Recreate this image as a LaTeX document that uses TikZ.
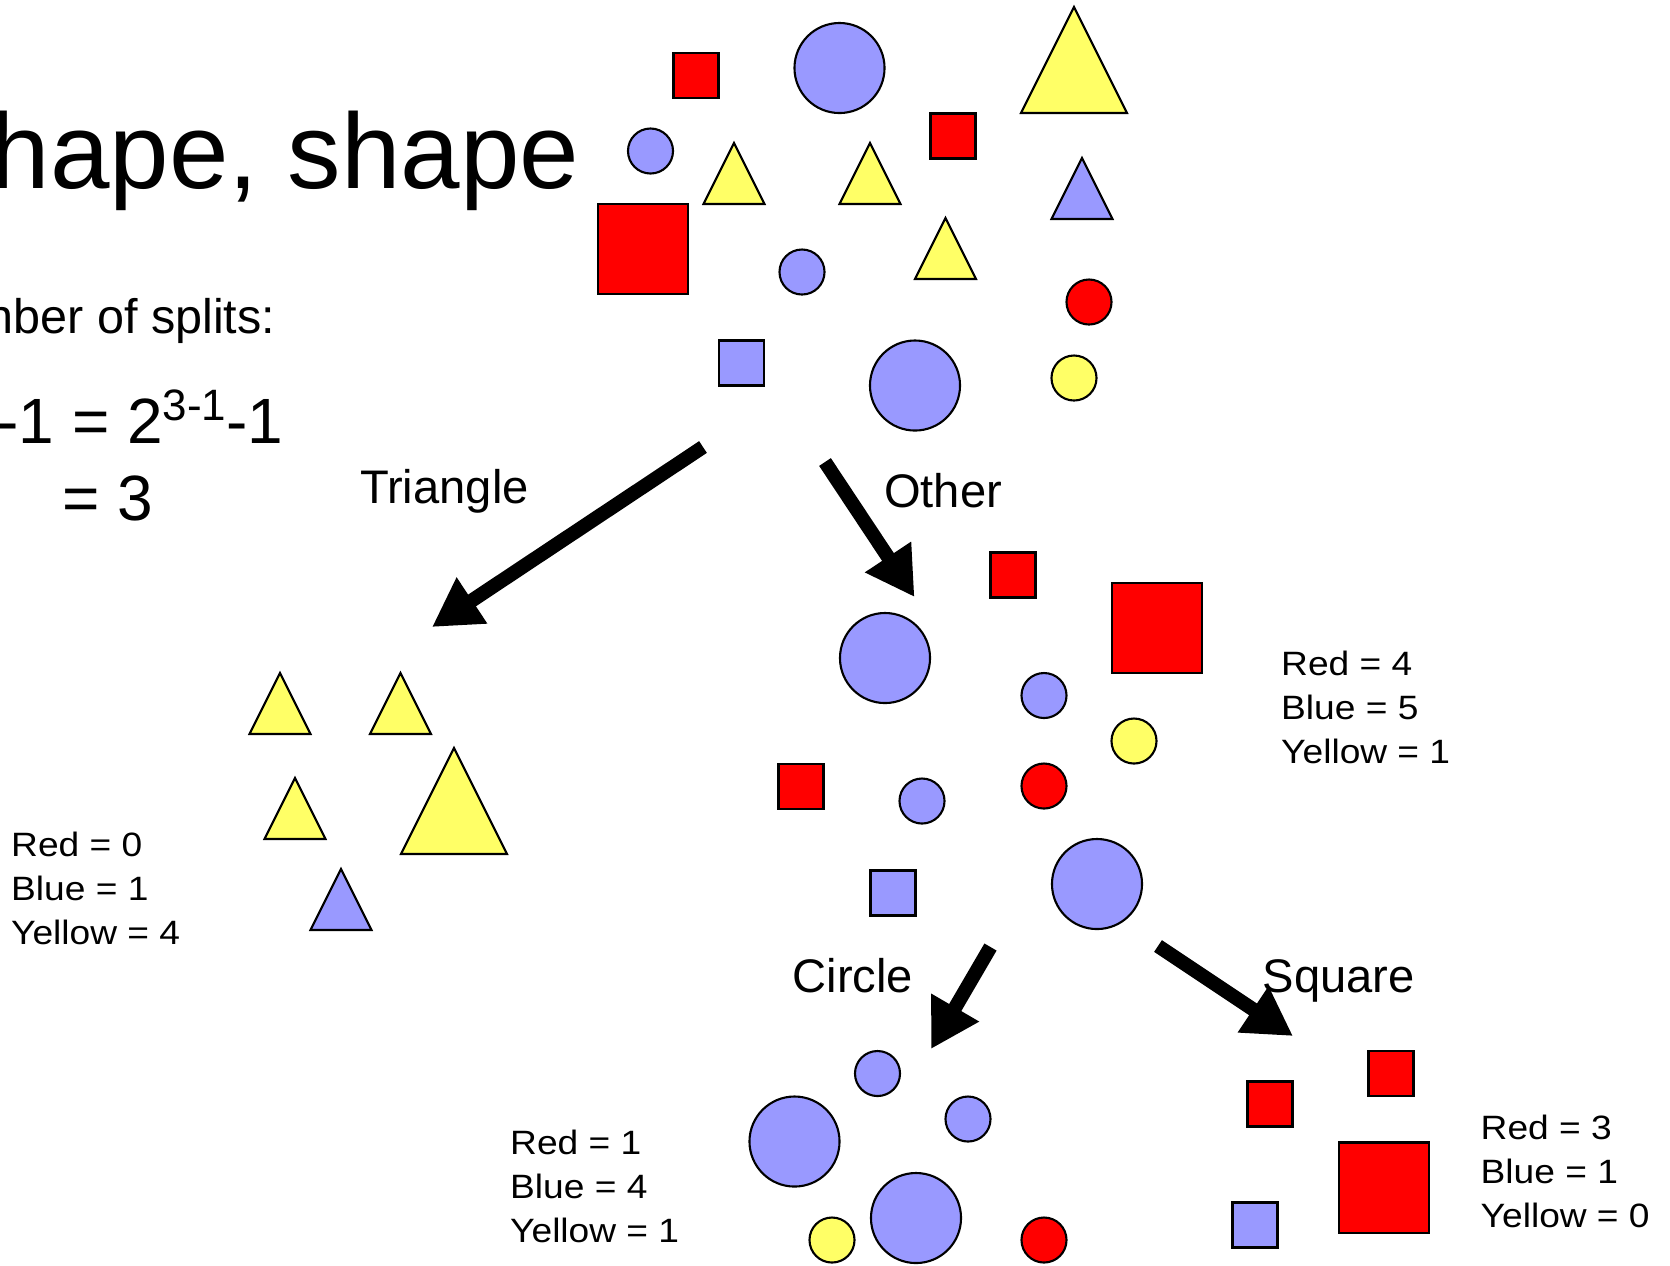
\documentclass[tikz,border=0pt]{standalone}
\usepackage{fontspec}
\setmainfont{Liberation Sans}
\newfontfamily\cntfont[FakeStretch=1.1]{Liberation Sans}
\usepackage{tikz}
\usetikzlibrary{arrows.meta}

\definecolor{shpblue}{RGB}{153,153,255}
\definecolor{shpred}{RGB}{255,0,0}
\definecolor{shpyellow}{RGB}{255,255,102}

\newcommand{\tri}[4]{\draw[shp, fill=#4] ({#1-#3/2},#2) -- (#1,{#2-#3}) -- ({#1+#3/2},#2) -- cycle;}

\begin{document}
\begin{tikzpicture}[x=0.01cm, y=-0.01cm,
    shp/.style={draw=black, line width=0.6pt},
    ball/.style={shp, circle, inner sep=0pt, minimum size=#1},
    box/.style={shp, rectangle, inner sep=0pt, minimum size=#1},
    lbl/.style={font=\fontsize{13.4}{16}\selectfont, inner sep=0pt, anchor=base west},
    cnt/.style={font=\cntfont\fontsize{9.6}{12.5}\selectfont, align=left, inner sep=0pt, anchor=north west},
    bigarrow/.style={line width=4pt, -{Triangle[length=0.48cm, width=0.52cm]}}]
    \useasboundingbox (0,0) rectangle (1670,1265);
    \fill[white] (0,0) rectangle (1670,1265);

    \node (title) [font=\fontsize{30.4}{36}\selectfont, inner sep=0pt, anchor=base east] at (580,188) {hape, shape};
    \node (splits) [font=\fontsize{13.8}{16}\selectfont, inner sep=0pt, anchor=base east] at (276,333) {nber of splits:};
    \node (formula) [font=\fontsize{18.2}{22}\selectfont, inner sep=0pt, anchor=base east] at (284,443) {-1 = 2\raisebox{6.3pt}{\fontsize{12.5}{14}\selectfont 3-1}-1};
    \node (result) [font=\fontsize{18.2}{22}\selectfont, inner sep=0pt, anchor=base west] at (62,520) {= 3};

    \node (tsq1) [box=0.45cm, fill=shpred] at (696,75.5) {};
    \node (tbig1) [ball=0.9cm, fill=shpblue] at (839.5,68) {};
    \node (tsq2) [box=0.45cm, fill=shpred] at (953,136) {};
    \tri{1074}{113}{106}{shpyellow}
    \node (tdot1) [ball=0.45cm, fill=shpblue] at (650.5,151) {};
    \tri{734}{204}{61}{shpyellow}
    \tri{870}{204}{61}{shpyellow}
    \tri{1082}{219}{61}{shpblue}
    \node (tbig2) [box=0.9cm, fill=shpred] at (643,249) {};
    \node (tdot2) [ball=0.45cm, fill=shpblue] at (802,272) {};
    \tri{945.5}{279}{61}{shpyellow}
    \node (tdot3) [ball=0.45cm, fill=shpred] at (1089,302) {};
    \node (tsq3) [box=0.45cm, fill=shpblue] at (741.5,363) {};
    \node (tbig3) [ball=0.9cm, fill=shpblue] at (915,385.5) {};
    \node (tdot4) [ball=0.45cm, fill=shpyellow] at (1074,378) {};

    \coordinate (tristart) at (703,447);
    \coordinate (triend) at (432,627);
    \coordinate (othstart) at (825,462);
    \coordinate (othend) at (914.5,597);
    \draw[bigarrow] (tristart) -- (triend);
    \draw[bigarrow] (othstart) -- (othend);
    \node (trilbl) [lbl] at (359.5,503) {Triangle};
    \node (othlbl) [lbl] at (883.5,507) {Other};

    \tri{280}{734}{61}{shpyellow}
    \tri{400.5}{734}{61}{shpyellow}
    \tri{295}{839}{61}{shpyellow}
    \tri{454}{854}{106}{shpyellow}
    \tri{341}{930}{61}{shpblue}
    \node (tricnt) [cnt] at (10.5,831) {Red = 0\\Blue = 1\\Yellow = 4};

    \node (osq1) [box=0.45cm, fill=shpred] at (1013,575) {};
    \node (osq2) [box=0.9cm, fill=shpred] at (1157,628) {};
    \node (obig1) [ball=0.9cm, fill=shpblue] at (885,658) {};
    \node (odot1) [ball=0.45cm, fill=shpblue] at (1044,695.5) {};
    \node (odot2) [ball=0.45cm, fill=shpyellow] at (1134,741) {};
    \node (osq3) [box=0.45cm, fill=shpred] at (801,786.5) {};
    \node (odot3) [ball=0.45cm, fill=shpblue] at (922,801) {};
    \node (odot4) [ball=0.45cm, fill=shpred] at (1044,786) {};
    \node (osq4) [box=0.45cm, fill=shpblue] at (893,893) {};
    \node (obig2) [ball=0.9cm, fill=shpblue] at (1097,884) {};
    \node (othcnt) [cnt] at (1280.5,650) {Red = 4\\Blue = 5\\Yellow = 1};

    \coordinate (cirstart) at (990.5,947);
    \coordinate (cirend) at (931,1049);
    \coordinate (sqstart) at (1158,946);
    \coordinate (sqend) at (1293,1036);
    \draw[bigarrow] (cirstart) -- (cirend);
    \draw[bigarrow] (sqstart) -- (sqend);
    \node (cirlbl) [lbl] at (792,992) {Circle};
    \node (sqlbl) [lbl] at (1262,992) {Square};

    \node (cdot1) [ball=0.45cm, fill=shpblue] at (877.5,1073.5) {};
    \node (cdot2) [ball=0.45cm, fill=shpblue] at (968,1119) {};
    \node (cbig1) [ball=0.9cm, fill=shpblue] at (794.5,1141.5) {};
    \node (cbig2) [ball=0.9cm, fill=shpblue] at (916,1218) {};
    \node (cdot3) [ball=0.45cm, fill=shpyellow] at (832,1240) {};
    \node (cdot4) [ball=0.45cm, fill=shpred] at (1044,1240) {};
    \node (circnt) [cnt] at (509.5,1129.5) {Red = 1\\Blue = 4\\Yellow = 1};

    \node (ssq1) [box=0.45cm, fill=shpred] at (1270,1104) {};
    \node (ssq2) [box=0.45cm, fill=shpred] at (1391,1073.5) {};
    \node (ssq3) [box=0.9cm, fill=shpred] at (1384,1187.5) {};
    \node (ssq4) [box=0.45cm, fill=shpblue] at (1255,1225) {};
    \node (sqcnt) [cnt] at (1480,1114.5) {Red = 3\\Blue = 1\\Yellow = 0};
\end{tikzpicture}
\end{document}
